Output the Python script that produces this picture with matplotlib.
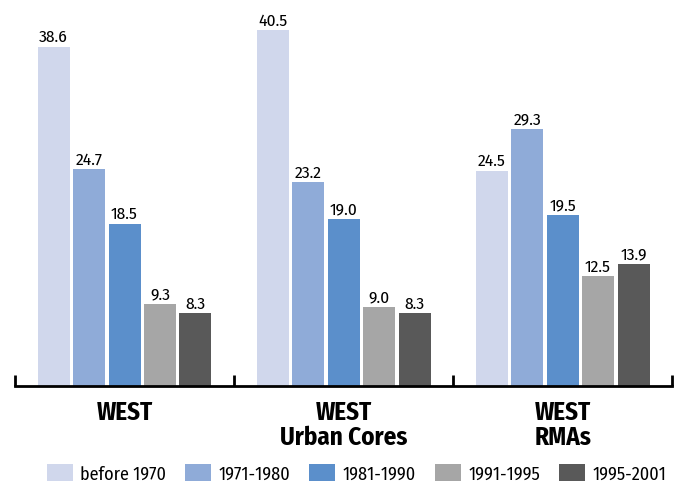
import numpy as np
import matplotlib.pyplot as plt

plt.rcParams['font.family'] = ['Fira Sans Condensed', 'DejaVu Sans']

# dados
regions = ["WEST", "WEST\nUrban Cores", "WEST\nRMAs"]
periods = ["before 1970", "1971-1980", "1981-1990", "1991-1995", "1995-2001"]
before_1970 = [38.6, 40.5, 24.5]
p1971_1980 = [24.7, 23.2, 29.3]
p1981_1990 = [18.5, 19.0, 19.5]
p1991_1995 = [9.3, 9.0, 12.5]
p1995_2001 = [8.3, 8.3, 13.9]
series = [before_1970, p1971_1980, p1981_1990, p1991_1995, p1995_2001]
colors = ["#D0D7EC", "#8FABD8", "#5B8FCB", "#A6A6A6", "#595959"]

fig = plt.figure(figsize=(6.81, 4.85), dpi=100)
ax = fig.add_axes([0.022, 0.202, 0.965, 0.777])

x = np.arange(len(regions))
width = 0.146
step = 0.162
for i, (vals, col, lab) in enumerate(zip(series, colors, periods)):
    pos = x + (i - 2) * step
    bars = ax.bar(pos, vals, width=width, color=col, label=lab)
    for b, v in zip(bars, vals):
        ax.text(b.get_x() + b.get_width() / 2, v + 0.25, f"{v:.1f}",
                ha="center", va="bottom", fontsize=12.5)

ax.set_xlim(-0.5, 2.5)
ax.set_ylim(0, 42.9)
for s in ["left", "right", "top"]:
    ax.spines[s].set_visible(False)
ax.spines["bottom"].set_linewidth(2)
ax.set_yticks([])
ax.set_xticks(x)
ax.set_xticklabels(regions, fontsize=18, fontweight="bold", linespacing=1.0, va="top")
ax.tick_params(axis="x", which="major", length=0, pad=10)
ax.set_xticks([-0.5, 0.5, 1.5, 2.5], minor=True)
ax.tick_params(axis="x", which="minor", direction="in", length=8, width=2)

fig.legend(loc="lower left", ncol=5, bbox_to_anchor=(0.058, -0.012), frameon=False,
           fontsize=13, handlelength=1.45, handleheight=1.05, columnspacing=1.05,
           handletextpad=0.4, borderaxespad=0)

fig.savefig("out.png", dpi=100)
